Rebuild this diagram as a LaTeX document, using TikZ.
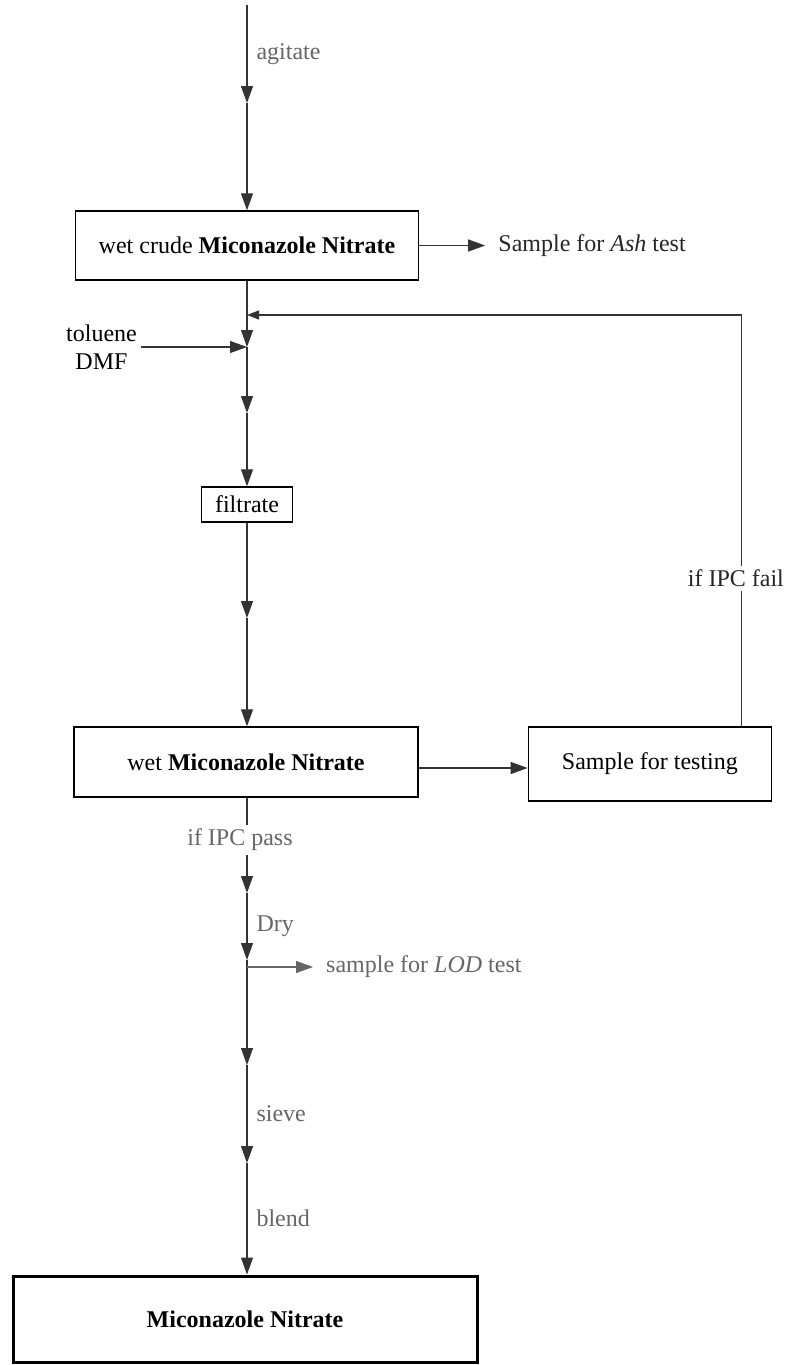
\documentclass[tikz,border=0pt]{standalone}
\usepackage{fontspec}
\setmainfont{Liberation Serif}
\usetikzlibrary{positioning}
\usetikzlibrary{arrows.meta}

\begin{document}
\begin{tikzpicture}[x=1pt, y=-1pt, auto,
    box/.style={draw, line width=1.4pt, inner sep=0pt, font=\fontsize{24}{28}\selectfont},
    lbl/.style={font=\fontsize{24}{28}\selectfont, text=black!60, inner sep=4pt},
    flow/.style={-{Triangle[length=17pt,width=12pt]}, line width=1.1pt, draw=black!80},
    back/.style={-{Triangle[length=12pt,width=9pt]}, line width=1.1pt, draw=black!80}]
  \useasboundingbox (0,0) rectangle (794,1365);
  % miconazole nitrate process
  \node[box, minimum width=343pt, minimum height=69pt] (crude) at (247,245.5) {wet crude \textbf{Miconazole Nitrate}};
  \node[box, minimum width=91pt, minimum height=35pt]  (filt)  at (247,504.5) {filtrate};
  \node[box, minimum width=344pt, minimum height=70pt] (wet)   at (246,762)   {wet \textbf{Miconazole Nitrate}};
  \node[box, minimum width=243pt, minimum height=74pt] (test)  [right=109pt of wet, yshift=-2pt] {Sample for testing};
  \node[box, line width=3pt, minimum width=464pt, minimum height=86pt] (final) at (245,1319) {\textbf{Miconazole Nitrate}};
  \node[lbl, text=black!85] (ash)  [right=75pt of crude] {Sample for \textit{Ash} test};
  \node[lbl, text=black, align=center, anchor=east] (solv) at (141,347) {toluene\\DMF};

  \coordinate (top) at (247,5);
  \coordinate (a1)  at (247,103);
  \coordinate (fb)  at (247,315);
  \coordinate (j1)  at (247,347);
  \coordinate (a2)  at (247,413);
  \coordinate (a3)  at (247,618);
  \coordinate (a4)  at (247,893);
  \coordinate (a5)  at (247,960);
  \coordinate (lod) at (247,967);
  \coordinate (a6)  at (247,1065);
  \coordinate (a7)  at (247,1163);
  \node[lbl] (lodtxt) [right=75pt of lod] {sample for \textit{LOD} test};

  \draw[flow] (top) -- node[lbl, xshift=5pt] {agitate} (a1);
  \draw[flow] (a1) -- (a1 |- crude.north);
  \draw[flow, shorten >=9pt] (crude) -- (ash);
  \draw[flow] (crude.south) -- (j1);
  \draw[flow] (solv) -- (j1);
  \draw[flow] (j1) -- (a2);
  \draw[flow] (a2) -- (filt.north);
  \draw[flow] (filt.south) -- (a3);
  \draw[flow] (a3) -- (a3 |- wet.north);
  \draw[flow] ([yshift=-6pt]wet.east) -- ([yshift=-6pt]wet.east -| test.west);
  \draw[back] ([xshift=92pt]test.north) |- node[lbl, auto=false, text=black!85, fill=white, pos=0.18, xshift=-6pt] {if IPC fail} (fb);
  \draw[flow] (a3 |- wet.south) -- node[lbl, auto=false, fill=white, pos=0.44, xshift=-7pt] {if IPC pass} (a4);
  \draw[flow] (a4) -- node[lbl, xshift=5pt] {Dry} (a5);
  \draw[flow] (a5) -- (a6);
  \draw[flow, draw=black!60, shorten >=9pt] (lod) -- (lodtxt);
  \draw[flow] (a6) -- node[lbl, xshift=5pt] {sieve} (a7);
  \draw[flow] (a7) -- node[lbl, xshift=5pt] {blend} (a7 |- final.north);
\end{tikzpicture}
\end{document}
